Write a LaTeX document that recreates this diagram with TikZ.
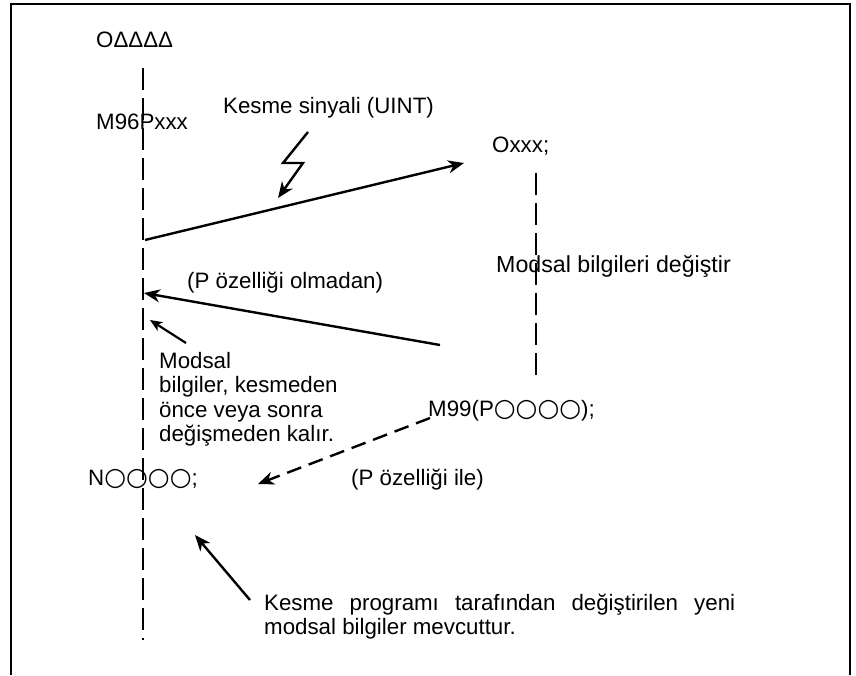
\documentclass[tikz,border=0pt]{standalone}
\usepackage{fontspec}
\setmainfont{Liberation Sans}
\newfontfamily\djv{DejaVu Sans}
\newcommand{\circs}{{\djv\fontsize{25}{25}\selectfont ○○○○}}
\usetikzlibrary{arrows.meta}
\begin{document}
\begin{tikzpicture}[x=1pt,y=-1pt,
  font=\fontsize{22.3}{24.4}\selectfont,
  txt/.style={inner sep=0pt, anchor=base west},
  conn/.style={line width=2.4pt, -{Stealth[length=16pt,width=13pt,inset=5pt]}},
  vline/.style={line width=2.7pt, dash pattern=on 22pt off 8pt},
  dline/.style={line width=2.4pt, dash pattern=on 15pt off 8pt, -{Stealth[length=16pt,width=13pt,inset=5pt]}}]
\useasboundingbox (0,0) rectangle (856,675);
\draw[line width=2.8pt] (11,675) -- (11,4) -- (850,4) -- (850,675);

% texts
\node[txt] (o4) at (96,47) {OΔΔΔΔ};
\node[txt] (m96) at (96,129) {M96Pxxx};
\node[txt] (sig) at (223,113) {Kesme sinyali (UINT)};
\node[txt] (oxxx) at (492,152) {Oxxx;};
\node[txt, font=\fontsize{23.2}{24.4}\selectfont] (chg) at (496,272) {Modsal bilgileri değiştir};
\node[txt] (nop) at (187,288) {(P özelliği olmadan)};
\node[txt, anchor=north west, align=left] (keep) at (159,352) {Modsal\\bilgiler, kesmeden\\önce veya sonra\\değişmeden kalır.};
\node[txt] (m99) at (428,416) {M99(P\circs);};
\node[txt] (wp) at (351,485) {(P özelliği ile)};
\node[txt] (n4) at (88,485) {N\circs;};
\node[txt] (new1) at (264,610) {\makebox[471pt][s]{Kesme programı tarafından değiştirilen yeni}};
\node[txt] (new2) at (264,634) {modsal bilgiler mevcuttur.};

% main and sub dashed lines
\coordinate (mtop) at (143,68);
\coordinate (mbot) at (143,640);
\draw[vline] (mtop) -- (mbot);
\coordinate (stop) at (536,173);
\coordinate (sbot) at (536,376);
\draw[vline] (stop) -- (sbot);

% connectors
\coordinate (a1s) at (145,240);
\coordinate (a1e) at (464,163);
\draw[conn] (a1s) -- (a1e);

\coordinate (z1) at (308,132);
\coordinate (z2) at (283,163);
\coordinate (z3) at (303,163);
\coordinate (z4) at (278,198);
\draw[conn, line join=miter] (z1) -- (z2) -- (z3) -- (z4);

\coordinate (a2s) at (440,345);
\coordinate (a2e) at (144,293);
\draw[conn] (a2s) -- (a2e);

\coordinate (a3s) at (186,343);
\coordinate (a3e) at (150,320);
\draw[line width=2.2pt, -{Stealth[length=12pt,width=10pt,inset=3pt]}] (a3s) -- (a3e);

\coordinate (a4s) at (430,418);
\coordinate (a4e) at (258,484);
\draw[dline] (a4s) -- (a4e);

\coordinate (a5s) at (250,600);
\coordinate (a5e) at (195,535);
\draw[conn] (a5s) -- (a5e);
\end{tikzpicture}
\end{document}
